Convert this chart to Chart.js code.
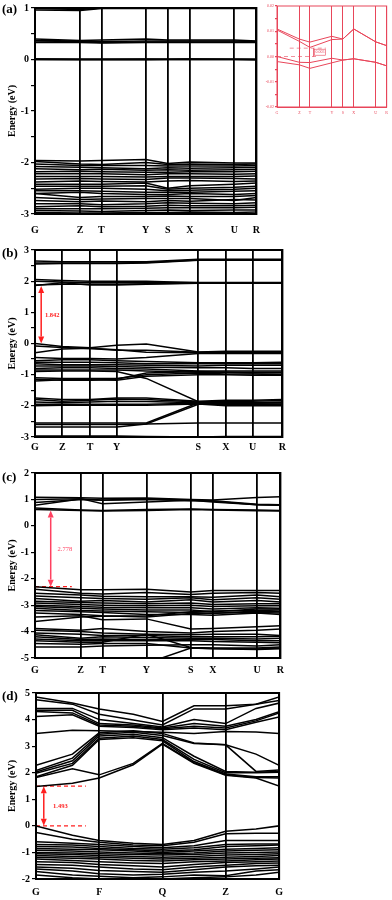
<!DOCTYPE html>
<html>
<head>
<meta charset="utf-8">
<script src="https://cdn.jsdelivr.net/npm/chart.js@4.4.1/dist/chart.umd.min.js"></script>
<style>
  body { margin: 0; background: #fff; width: 392px; height: 900px; position: relative; overflow: hidden; }
  .box { position: absolute; }
  .tag { position: absolute; left: 2px; font: bold 13px "Liberation Serif", serif; color: #000; }
</style>
</head>
<body>
<div class="box" style="left:0;top:0;width:270px;height:240px"><canvas id="ca"></canvas></div>
<div class="box" style="left:262px;top:0;width:130px;height:120px"><canvas id="ci"></canvas></div>
<div class="box" style="left:0;top:240px;width:290px;height:221px"><canvas id="cb"></canvas></div>
<div class="box" style="left:0;top:462px;width:290px;height:220px"><canvas id="cc"></canvas></div>
<div class="box" style="left:0;top:683px;width:290px;height:217px"><canvas id="cd"></canvas></div>
<div class="tag" style="top:1px">(a)</div>
<div class="tag" style="top:245px">(b)</div>
<div class="tag" style="top:469px">(c)</div>
<div class="tag" style="top:688px">(d)</div>
<script>
const FONT = 'Liberation Serif';
const INK = '#000';
const RED = '#ff1f1f';
const PINK = '#e8465a';

// ---- (a) ----
const kA = [0, 0.204, 0.30, 0.50, 0.60, 0.70, 0.90, 1.0];
const labA = ['G', 'Z', 'T', 'Y', 'S', 'X', 'U', 'R'];
const condA = [
  [0.99, 0.97, 1.00, 1.00, 1.00, 1.00, 1.00, 1.00],
  [0.96, 0.95, 0.99, 0.99, 0.99, 0.99, 0.99, 0.99],
  [0.40, 0.37, 0.38, 0.40, 0.38, 0.38, 0.38, 0.36],
  [0.37, 0.36, 0.35, 0.36, 0.36, 0.36, 0.36, 0.35],
  [0.34, 0.35, 0.33, 0.34, 0.34, 0.34, 0.34, 0.34],
  [0.33, 0.33, 0.32, 0.33, 0.33, 0.33, 0.33, 0.33]
];
// bands next to 0 eV, also shown magnified in the inset
const zeroA = [
  [0.0109, 0.0069, 0.0057, 0.0080, 0.0069, 0.0109, 0.0058, 0.0043],
  [0.0105, 0.0060, 0.0036, 0.0067, 0.0069, 0.0109, 0.0058, 0.0043],
  [0.0000, -0.0023, -0.0024, -0.0007, -0.0014, -0.0009, -0.0023, -0.0037],
  [-0.0020, -0.0033, -0.0047, -0.0025, -0.0014, -0.0009, -0.0023, -0.0037]
];
const valA = [
  [-1.96, -1.97, -1.96, -1.94, -2.02, -1.99, -2.01, -2.01],
  [-1.98, -2.03, -2.04, -2.00, -2.04, -2.03, -2.04, -2.03],
  [-2.03, -2.06, -2.06, -2.06, -2.07, -2.07, -2.07, -2.06],
  [-2.08, -2.09, -2.10, -2.12, -2.10, -2.11, -2.10, -2.09],
  [-2.12, -2.14, -2.13, -2.15, -2.14, -2.15, -2.14, -2.13],
  [-2.18, -2.17, -2.18, -2.19, -2.19, -2.18, -2.18, -2.17],
  [-2.22, -2.22, -2.22, -2.24, -2.22, -2.22, -2.23, -2.22],
  [-2.27, -2.27, -2.27, -2.28, -2.27, -2.27, -2.27, -2.26],
  [-2.32, -2.31, -2.32, -2.33, -2.30, -2.30, -2.31, -2.32],
  [-2.38, -2.36, -2.37, -2.38, -2.36, -2.35, -2.37, -2.36],
  [-2.42, -2.42, -2.42, -2.40, -2.50, -2.45, -2.42, -2.40],
  [-2.46, -2.46, -2.46, -2.45, -2.52, -2.50, -2.48, -2.46],
  [-2.52, -2.50, -2.50, -2.52, -2.55, -2.54, -2.52, -2.50],
  [-2.55, -2.55, -2.56, -2.58, -2.58, -2.58, -2.56, -2.55],
  [-2.60, -2.58, -2.60, -2.62, -2.62, -2.60, -2.62, -2.60],
  [-2.60, -2.68, -2.66, -2.66, -2.65, -2.66, -2.66, -2.64],
  [-2.68, -2.72, -2.71, -2.70, -2.70, -2.70, -2.74, -2.68],
  [-2.74, -2.76, -2.75, -2.76, -2.74, -2.75, -2.72, -2.73],
  [-2.80, -2.80, -2.82, -2.80, -2.78, -2.79, -2.80, -2.78],
  [-2.86, -2.84, -2.86, -2.85, -2.83, -2.84, -2.84, -2.83],
  [-2.90, -2.90, -2.90, -2.89, -2.88, -2.88, -2.88, -2.87],
  [-2.93, -2.94, -2.95, -2.93, -2.92, -2.93, -2.92, -2.92],
  [-2.97, -2.98, -2.98, -2.97, -2.97, -2.96, -2.97, -2.96]
];

// ---- (b) ----
const symB = [0, 0.11, 0.223, 0.33, 0.66, 0.772, 0.88, 1.0];
const labB = ['G', 'Z', 'T', 'Y', 'S', 'X', 'U', 'R'];
const kB = [0, 0.11, 0.223, 0.33, 0.45, 0.66, 0.772, 0.88, 1.0];
const condB = [
  [2.65, 2.62, 2.62, 2.62, 2.62, 2.70, 2.70, 2.70, 2.70],
  [2.58, 2.58, 2.58, 2.58, 2.60, 2.68, 2.68, 2.68, 2.68],
  [2.55, 2.57, 2.57, 2.57, 2.58, 2.67, 2.67, 2.67, 2.67],
  [2.05, 2.02, 2.00, 2.00, 2.00, 1.95, 1.95, 1.95, 1.95],
  [2.00, 1.97, 1.95, 1.95, 1.96, 1.96, 1.96, 1.96, 1.96],
  [1.88, 1.90, 1.90, 1.90, 1.92, 1.94, 1.94, 1.94, 1.94],
  [1.86, 1.95, 1.88, 1.88, 1.90, 1.93, 1.93, 1.93, 1.93]
];
const valB = [
  [0.00, -0.10, -0.14, -0.06, -0.02, -0.27, -0.25, -0.25, -0.25],
  [-0.08, -0.13, -0.16, -0.22, -0.22, -0.28, -0.28, -0.28, -0.27],
  [-0.30, -0.18, -0.15, -0.20, -0.28, -0.30, -0.28, -0.28, -0.28],
  [-0.45, -0.48, -0.48, -0.50, -0.45, -0.32, -0.32, -0.32, -0.32],
  [-0.55, -0.52, -0.52, -0.55, -0.58, -0.62, -0.62, -0.62, -0.60],
  [-0.60, -0.60, -0.60, -0.62, -0.65, -0.65, -0.65, -0.65, -0.65],
  [-0.65, -0.68, -0.68, -0.68, -0.70, -0.72, -0.70, -0.70, -0.70],
  [-0.72, -0.72, -0.72, -0.74, -0.76, -0.78, -0.78, -0.80, -0.80],
  [-0.80, -0.78, -0.78, -0.80, -0.82, -0.88, -0.88, -0.88, -0.88],
  [-0.85, -0.85, -0.85, -0.85, -0.88, -0.92, -0.92, -0.92, -0.92],
  [-0.90, -0.88, -0.88, -0.90, -1.12, -1.87, -1.90, -1.90, -1.90],
  [-1.10, -1.12, -1.12, -1.12, -1.00, -0.95, -0.98, -0.98, -1.00],
  [-1.15, -1.18, -1.18, -1.15, -0.95, -0.90, -0.92, -0.95, -0.95],
  [-1.20, -1.16, -1.16, -1.18, -1.05, -1.00, -1.00, -1.02, -1.02],
  [-1.75, -1.80, -1.80, -1.75, -1.75, -1.85, -1.82, -1.82, -1.80],
  [-1.80, -1.85, -1.82, -1.78, -1.80, -1.88, -1.85, -1.85, -1.83],
  [-1.88, -1.90, -1.88, -1.85, -1.86, -1.90, -1.92, -1.92, -1.90],
  [-1.95, -1.95, -1.95, -1.95, -1.95, -1.92, -1.95, -1.95, -1.95],
  [-2.00, -1.98, -1.98, -1.98, -1.98, -1.94, -2.00, -2.00, -2.00],
  [-2.55, -2.55, -2.55, -2.55, -2.55, -1.90, -1.90, -1.90, -1.88],
  [-2.60, -2.60, -2.60, -2.60, -2.58, -1.95, -1.95, -1.95, -1.95],
  [-2.68, -2.68, -2.68, -2.68, -2.58, -2.55, -2.55, -2.55, -2.55],
  [-2.97, -2.97, -2.97, -2.97, -2.98, -3.00, -2.98, -2.98, -2.98]
];

// ---- (c) ----
const kC = [0, 0.186, 0.275, 0.454, 0.635, 0.725, 0.905, 1.0];
const labC = ['G', 'Z', 'T', 'Y', 'S', 'X', 'U', 'R'];
const condC = [
  [1.08, 1.06, 1.04, 1.05, 1.00, 0.98, 1.07, 1.10],
  [1.00, 1.03, 0.84, 0.90, 0.97, 0.90, 0.80, 0.78],
  [0.88, 1.00, 0.97, 1.00, 0.95, 0.95, 0.82, 0.80],
  [0.78, 1.02, 0.98, 1.02, 0.98, 0.93, 0.80, 0.79],
  [0.68, 0.60, 0.58, 0.62, 0.64, 0.62, 0.60, 0.58],
  [0.62, 0.58, 0.56, 0.58, 0.62, 0.60, 0.57, 0.56]
];
const valC = [
  [-2.30, -2.42, -2.42, -2.40, -2.50, -2.45, -2.45, -2.45],
  [-2.40, -2.55, -2.58, -2.52, -2.60, -2.55, -2.52, -2.55],
  [-2.55, -2.62, -2.66, -2.68, -2.68, -2.70, -2.62, -2.68],
  [-2.65, -2.72, -2.75, -2.78, -2.72, -2.80, -2.72, -2.78],
  [-2.75, -2.85, -2.82, -2.88, -2.80, -2.88, -2.82, -2.88],
  [-2.85, -2.90, -2.92, -2.95, -2.92, -2.98, -2.95, -2.95],
  [-2.92, -2.98, -3.00, -3.02, -3.00, -3.05, -3.02, -3.02],
  [-3.00, -3.05, -3.08, -3.10, -3.10, -3.15, -3.10, -3.12],
  [-3.05, -3.12, -3.15, -3.18, -3.18, -3.25, -3.15, -3.15],
  [-3.12, -3.20, -3.22, -3.25, -3.28, -3.32, -3.22, -3.25],
  [-3.20, -3.25, -3.28, -3.35, -3.35, -3.38, -3.30, -3.35],
  [-3.30, -3.35, -3.40, -3.45, -3.32, -3.30, -3.28, -3.30],
  [-3.45, -3.40, -3.55, -3.52, -3.90, -3.88, -3.82, -3.78],
  [-3.62, -3.45, -3.42, -3.40, -3.25, -3.22, -3.20, -3.18],
  [-3.88, -3.95, -3.88, -4.00, -4.05, -4.00, -3.95, -3.90],
  [-3.95, -4.00, -4.05, -4.10, -4.12, -4.10, -4.10, -4.15],
  [-4.05, -4.10, -4.15, -4.15, -4.20, -4.20, -4.20, -4.18],
  [-4.12, -4.25, -4.20, -4.22, -4.25, -4.25, -4.28, -4.25],
  [-4.20, -4.30, -4.28, -4.30, -4.30, -4.30, -4.35, -4.35],
  [-4.28, -4.35, -4.35, -4.35, -4.35, -4.38, -4.40, -4.42],
  [-4.35, -4.40, -4.40, -4.10, -4.60, -4.62, -4.62, -4.58],
  [-4.45, -4.48, -4.45, -4.45, -4.62, -4.65, -4.68, -4.65],
  [-4.58, -4.58, -4.55, -4.52, -4.50, -4.50, -4.55, -4.50],
  [-5.30, -5.30, -5.30, -5.20, -4.62, -4.64, -4.66, -4.62]
];

// ---- (d) ----
const symD = [0, 0.26, 0.52, 0.78, 1.0];
const labD = ['G', 'F', 'Q', 'Z', 'G'];
const kD = [0, 0.15, 0.26, 0.40, 0.52, 0.65, 0.78, 0.905, 1.0];
const condD = [
  [4.85, 4.62, 4.40, 4.20, 3.93, 4.52, 4.52, 4.58, 4.85],
  [4.75, 4.58, 4.20, 3.98, 3.80, 4.40, 4.40, 4.58, 4.72],
  [4.42, 4.42, 4.00, 3.85, 3.72, 4.00, 3.85, 4.42, 4.62],
  [4.35, 4.35, 3.85, 3.80, 3.68, 3.85, 3.75, 4.00, 4.30],
  [4.30, 4.25, 3.80, 3.75, 3.65, 3.75, 3.68, 3.95, 4.25],
  [4.12, 4.18, 3.75, 3.70, 3.62, 3.68, 3.62, 3.90, 4.10],
  [3.48, 3.60, 3.58, 3.55, 3.52, 3.48, 3.55, 3.53, 3.48],
  [2.28, 2.70, 3.50, 3.58, 3.48, 3.12, 3.05, 2.70, 2.28],
  [2.08, 2.55, 3.45, 3.52, 3.40, 3.10, 3.05, 2.05, 2.10],
  [2.03, 2.45, 3.38, 3.45, 3.32, 2.62, 2.05, 2.02, 2.05],
  [1.98, 2.35, 3.30, 3.38, 3.25, 2.50, 2.00, 2.00, 2.02],
  [1.85, 2.28, 3.25, 3.32, 3.20, 2.42, 1.95, 1.85, 1.85],
  [1.82, 2.15, 1.92, 2.35, 3.10, 2.38, 1.92, 1.82, 1.80],
  [1.48, 1.60, 1.80, 2.30, 3.08, 2.35, 1.90, 1.80, 1.50]
];
const valD = [
  [0.00, -0.35, -0.55, -0.65, -0.70, -0.55, -0.20, -0.12, 0.00],
  [-0.25, -0.50, -0.62, -0.72, -0.75, -0.62, -0.30, -0.28, -0.28],
  [-0.60, -0.65, -0.70, -0.78, -0.82, -0.75, -0.55, -0.55, -0.55],
  [-0.70, -0.72, -0.78, -0.85, -0.88, -0.82, -0.70, -0.68, -0.68],
  [-0.78, -0.80, -0.85, -0.90, -0.95, -0.90, -0.78, -0.75, -0.72],
  [-0.85, -0.88, -0.90, -0.95, -1.00, -0.95, -0.88, -0.85, -0.82],
  [-0.92, -0.95, -0.98, -1.02, -1.05, -1.02, -0.95, -0.92, -0.90],
  [-1.00, -1.02, -1.05, -1.08, -1.10, -1.08, -1.02, -1.00, -0.98],
  [-1.05, -1.08, -1.12, -1.15, -1.18, -1.15, -1.10, -1.08, -1.05],
  [-1.12, -1.15, -1.18, -1.22, -1.25, -1.22, -1.18, -1.15, -1.12],
  [-1.18, -1.22, -1.25, -1.30, -1.32, -1.28, -1.25, -1.22, -1.20],
  [-1.25, -1.30, -1.35, -1.40, -1.42, -1.35, -1.32, -1.28, -1.25],
  [-1.35, -1.38, -1.45, -1.50, -1.55, -1.45, -1.38, -1.35, -1.32],
  [-1.45, -1.48, -1.55, -1.62, -1.65, -1.55, -1.48, -1.42, -1.40],
  [-1.55, -1.60, -1.68, -1.72, -1.75, -1.65, -1.55, -1.50, -1.48],
  [-1.62, -1.70, -1.80, -1.85, -1.82, -1.75, -1.70, -1.62, -1.55],
  [-1.72, -1.85, -1.90, -1.95, -1.92, -1.85, -1.88, -1.70, -1.65],
  [-1.85, -1.95, -2.00, -2.05, -2.00, -1.95, -1.92, -1.85, -1.75]
];

// gap markers: arrow position, ends, label
const gapB = { k: 0.025, lo: 0, hi: 1.842, text: '1.842', tk: 0.04, ty: 0.91 };
const gapC = { k: 0.064, lo: -2.30, hi: 0.58, text: '2.778', tk: 0.092, ty: -0.89 };
const gapD = { k: 0.032, lo: 0, hi: 1.493, text: '1.493', tk: 0.07, ty: 0.73 };
const gapI = { k: 0.333, lo: 0, hi: 0.0033, text: '0.003', tk: 0.35, ty: 0.0017 };

function band(k, ys, color, w) {
  return { data: ys.map((y, i) => ({ x: k[i], y })), borderColor: color, borderWidth: w, pointRadius: 0 };
}
function dash(x0, x1, y, color, w) {
  return { data: [{ x: x0, y }, { x: x1, y }], borderColor: color, borderWidth: w, borderDash: [4, 3], pointRadius: 0 };
}

const framePlugin = {
  id: 'frame',
  afterDatasetsDraw(chart, args, o) {
    const a = chart.chartArea, ctx = chart.ctx;
    ctx.save();
    ctx.strokeStyle = o.color || INK;
    ctx.lineWidth = o.width || 2;
    ctx.strokeRect(a.left, a.top, a.right - a.left, a.bottom - a.top);
    ctx.restore();
  }
};

const gapPlugin = {
  id: 'gap',
  afterDatasetsDraw(chart, args, o) {
    if (o.k === undefined) return;
    const { ctx, scales: { x, y } } = chart;
    const px = x.getPixelForValue(o.k);
    const p0 = y.getPixelForValue(o.lo), p1 = y.getPixelForValue(o.hi);
    const hl = o.head || 7, hw = o.hw || 3;
    ctx.save();
    ctx.strokeStyle = ctx.fillStyle = o.color || RED;
    ctx.lineWidth = o.lw || 1.5;
    ctx.beginPath();
    ctx.moveTo(px, p0 - (o.arrows ? hl : 0));
    ctx.lineTo(px, p1 + (o.arrows ? hl : 0));
    ctx.stroke();
    if (o.arrows) {
      ctx.beginPath(); ctx.moveTo(px, p1); ctx.lineTo(px - hw, p1 + hl); ctx.lineTo(px + hw, p1 + hl); ctx.fill();
      ctx.beginPath(); ctx.moveTo(px, p0); ctx.lineTo(px - hw, p0 - hl); ctx.lineTo(px + hw, p0 - hl); ctx.fill();
    }
    ctx.font = (o.weight || 'bold') + ' ' + (o.size || 6.5) + 'px "' + FONT + '"';
    ctx.textBaseline = 'middle';
    const tx = x.getPixelForValue(o.tk), ty = y.getPixelForValue(o.ty);
    ctx.fillText(o.text, tx, ty);
    if (o.boxed) {
      const w = ctx.measureText(o.text).width;
      ctx.lineWidth = 0.6;
      ctx.strokeRect(tx - 1, ty - o.size / 2 - 1, w + 2, o.size + 2);
    }
    ctx.restore();
  }
};

function bandChart(id, o) {
  const color = o.color || INK;
  const sets = [];
  o.bands.forEach(group => group.forEach(b => sets.push(band(o.k, b, color, o.bw || 1.5))));
  (o.extra || []).forEach(s => sets.push(s));
  const fs = o.fs || 10;
  return new Chart(document.getElementById(id), {
    type: 'line',
    data: { datasets: sets },
    options: {
      animation: false,
      responsive: true,
      maintainAspectRatio: false,
      layout: { padding: { top: o.pt, right: o.pr, left: 0, bottom: 0 } },
      plugins: {
        legend: { display: false },
        tooltip: { enabled: false },
        frame: { color, width: o.fw || 2 },
        gap: o.gap || {}
      },
      scales: {
        x: {
          type: 'linear', min: 0, max: 1,
          afterBuildTicks: s => { s.ticks = o.sym.map(v => ({ value: v })); },
          afterFit: s => { s.height = o.xh; },
          ticks: {
            autoSkip: false, maxRotation: 0, padding: o.xpad, color,
            font: { family: FONT, weight: o.fw ? 'normal' : 'bold', size: fs },
            callback: (v, i) => o.labels[i]
          },
          grid: { color, lineWidth: o.gw || 1.8, drawTicks: false },
          border: { color, width: o.fw || 2 }
        },
        y: {
          min: o.ymin, max: o.ymax,
          afterFit: s => { s.width = o.yw; },
          ticks: {
            stepSize: o.step, padding: o.ypad || 2, color,
            font: { family: FONT, weight: o.fw ? 'normal' : 'bold', size: fs },
            callback: o.fmt || (v => Math.abs(v - Math.round(v)) < 1e-6 ? Math.round(v) : '')
          },
          grid: { drawOnChartArea: false, color, tickLength: o.tl || 4, lineWidth: 1.2 },
          border: { color, width: o.fw || 2 },
          title: o.title === false ? { display: false } : {
            display: true, text: 'Energy (eV)', color: INK,
            font: { family: FONT, weight: 'bold', size: 10 },
            padding: { top: 6, bottom: 0 }
          }
        }
      }
    },
    plugins: [framePlugin, gapPlugin]
  });
}

// (a) main panel
bandChart('ca', {
  k: kA, sym: kA, labels: labA, bands: [condA, zeroA, valA],
  ymin: -3, ymax: 1, step: 0.5, pt: 6, pr: 5, xh: 26, xpad: 10, yw: 35
});

// (a) inset, magnified around 0 eV
bandChart('ci', {
  k: kA, sym: kA, labels: labA, bands: [zeroA], color: PINK, bw: 1,
  ymin: -0.02, ymax: 0.02, step: 0.005, pt: 6, pr: 3, xh: 13, xpad: 4, yw: 15,
  fs: 4, fw: 1, gw: 1, tl: 2, ypad: 1, title: false,
  fmt: v => Math.abs(v * 100 - Math.round(v * 100)) < 1e-6 ? v.toFixed(2) : '',
  extra: [dash(0.116, 0.446, 0.0033, PINK, 0.6), dash(0, 0.378, 0, PINK, 0.6)],
  gap: Object.assign({ color: PINK, lw: 0.8, size: 4, weight: 'normal', boxed: true }, gapI)
});

// (b)
bandChart('cb', {
  k: kB, sym: symB, labels: labB, bands: [condB, valB],
  ymin: -3, ymax: 3, step: 0.5, pt: 10, pr: 4, xh: 24, xpad: 4, yw: 35,
  gap: Object.assign({ arrows: true }, gapB)
});

// (c)
bandChart('cc', {
  k: kC, sym: kC, labels: labC, bands: [condC, valC],
  ymin: -5, ymax: 2, step: 0.5, pt: 11, pr: 4, xh: 24, xpad: 6, yw: 35,
  extra: [dash(0, 0.15, -2.30, RED, 1.2)],
  gap: Object.assign({ arrows: true, weight: 'normal', color: '#ff4060' }, gapC)
});

// (d)
bandChart('cd', {
  k: kD, sym: symD, labels: labD, bands: [condD, valD],
  ymin: -2, ymax: 5, step: 0.5, pt: 10, pr: 4, xh: 21, xpad: 7, yw: 36,
  extra: [dash(0, 0.205, 1.493, RED, 1.2), dash(0, 0.205, 0, RED, 1.2)],
  gap: Object.assign({ arrows: true }, gapD)
});
</script>
</body>
</html>
